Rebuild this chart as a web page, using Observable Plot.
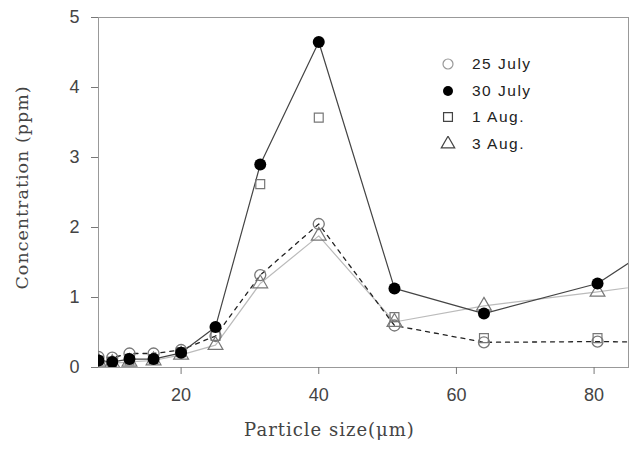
<!DOCTYPE html>
<html>
<head>
<meta charset="utf-8">
<script src="https://cdn.jsdelivr.net/npm/d3@7"></script>
<script src="https://cdn.jsdelivr.net/npm/@observablehq/plot@0.6"></script>
<style>
  html, body { margin: 0; padding: 0; background: #fff; }
  #wrap { position: relative; width: 632px; height: 456px; }
  #legend { position: absolute; left: 440px; top: 51px; font-family: "Liberation Sans", Arial, sans-serif; font-size: 15.5px; color: #222; letter-spacing: 1.5px; }
  #legend .row { display: flex; align-items: center; height: 26.5px; }
  #legend svg { margin-right: 16px; }
</style>
</head>
<body>
<div id="wrap"><div id="legend"></div></div>
<script>
// Particle sizes (µm); the last one lies beyond the visible axis and is clipped
const sizes  = [8, 10, 12.5, 16, 20, 25, 31.5, 40, 51, 64, 80.5, 100];
const july25 = [0.15, 0.14, 0.20, 0.20, 0.25, 0.45, 1.32, 2.05, 0.60, 0.36, 0.37, 0.35];
const july30 = [0.10, 0.08, 0.12, 0.12, 0.21, 0.58, 2.90, 4.65, 1.13, 0.77, 1.20, 2.46];
const aug1   = [0.10, 0.08, 0.10, 0.12, 0.22, 0.45, 2.62, 3.57, 0.72, 0.42, 0.42, null];
const aug3   = [0.08, 0.06, 0.08, 0.10, 0.18, 0.32, 1.20, 1.88, 0.65, 0.88, 1.08, 1.34];
const seriesNames = ["25 July", "30 July", "1 Aug.", "3 Aug."];
const xTicks = [20, 40, 60, 80];
const yTicks = [0, 1, 2, 3, 4, 5];

const mk = (vals, name) => sizes.map((s, i) => ({x: s, y: vals[i], name})).filter(d => d.y != null);
const d25 = mk(july25, seriesNames[0]);
const d30 = mk(july30, seriesNames[1]);
const d01 = mk(aug1, seriesNames[2]);
const d03 = mk(aug3, seriesNames[3]);

const serif = "DejaVu Serif, Liberation Serif, serif";
const chart = Plot.plot({
  width: 632,
  height: 456,
  marginLeft: 98,
  marginRight: 4,
  marginTop: 17,
  marginBottom: 89,
  style: {fontFamily: "Liberation Sans, Arial, sans-serif", fontSize: "18px", color: "#333", background: "#fff"},
  x: {domain: [8, 85]},
  y: {domain: [0, 5]},
  marks: [
    Plot.frame({stroke: "#999", strokeWidth: 1}),
    Plot.axisX(xTicks, {tickSize: 7, tickPadding: 14, label: null, stroke: "#777", fill: "#444", tickFormat: "d"}),
    Plot.axisY(yTicks, {tickSize: 7, tickPadding: 12, label: null, stroke: "#777", fill: "#444", tickFormat: "d"}),
    Plot.line(d03, {x: "x", y: "y", stroke: "#bbb", strokeWidth: 1.2, clip: true}),
    Plot.line(d25, {x: "x", y: "y", stroke: "#222", strokeWidth: 1.3, strokeDasharray: "4,5", clip: true}),
    Plot.line(d30, {x: "x", y: "y", stroke: "#444", strokeWidth: 1.2, clip: true}),
    Plot.dot(d03, {x: "x", y: "y", symbol: "triangle", r: 5.5, stroke: "#777", strokeWidth: 1.2, fill: "none", clip: true}),
    Plot.dot(d01, {x: "x", y: "y", symbol: "square", r: 5, stroke: "#777", strokeWidth: 1.2, fill: "none", clip: true}),
    Plot.dot(d25, {x: "x", y: "y", symbol: "circle", r: 5.5, stroke: "#777", strokeWidth: 1.3, fill: "none", clip: true}),
    Plot.dot(d30, {x: "x", y: "y", symbol: "circle", r: 6, fill: "#000", stroke: "none", clip: true}),
    Plot.text(["Concentration (ppm)"], {frameAnchor: "left", textAnchor: "middle", rotate: -90, dx: -76, dy: -5, fontFamily: serif, fontSize: 17.5, fill: "#444"}),
    Plot.text(["Particle size(\u03bcm)"], {frameAnchor: "bottom", textAnchor: "middle", dy: 68, dx: -34, fontFamily: serif, fontSize: 18, fill: "#444"})
  ]
});
chart.querySelectorAll('g[aria-label="text"] text').forEach(t => t.style.letterSpacing = "1px");
document.getElementById("wrap").prepend(chart);

// legend
const legendSyms = [
  {sym: d3.symbolCircle, fill: "none", stroke: "#999"},
  {sym: d3.symbolCircle, fill: "#000", stroke: "none"},
  {sym: d3.symbolSquare, fill: "none", stroke: "#444"},
  {sym: d3.symbolTriangle, fill: "none", stroke: "#444"}
];
const leg = document.getElementById("legend");
seriesNames.forEach((name, i) => {
  const row = document.createElement("div");
  row.className = "row";
  const s = legendSyms[i];
  const path = d3.symbol(s.sym, Math.PI * 25)();
  row.innerHTML = `<svg width="16" height="16" viewBox="-8 -8 16 16"><path d="${path}" fill="${s.fill}" stroke="${s.stroke}" stroke-width="1.2"/></svg><span>${name}</span>`;
  leg.appendChild(row);
});
</script>
</body>
</html>
